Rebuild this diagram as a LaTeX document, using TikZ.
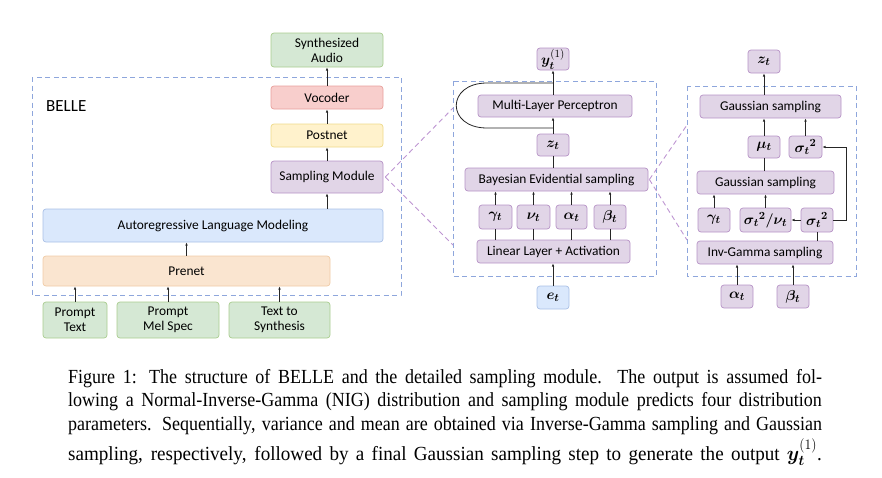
\documentclass[tikz,border=0pt]{standalone}
\usepackage{fontspec}
\usepackage{amsmath}
\usepackage{bm}
\usepackage{graphicx}
\setmainfont{Liberation Serif}
\newfontfamily\carl{Carlito}
\usetikzlibrary{arrows.meta}
\definecolor{gfill}{HTML}{D5E8D4}\definecolor{gdraw}{HTML}{A9CC8F}
\definecolor{rfill}{HTML}{F8CECC}\definecolor{rdraw}{HTML}{E8A09C}
\definecolor{yfill}{HTML}{FFF2CC}\definecolor{ydraw}{HTML}{EED98A}
\definecolor{pfill}{HTML}{E1D5E7}\definecolor{pdraw}{HTML}{B692C6}
\definecolor{bfill}{HTML}{DAE8FC}\definecolor{bdraw}{HTML}{A9C0E6}
\definecolor{ofill}{HTML}{FAE5D0}\definecolor{odraw}{HTML}{F0CBA6}
\definecolor{dashblue}{HTML}{8EA6DC}
\definecolor{dashpurple}{HTML}{BE96D2}
\newcommand{\bt}{{\bm t}}
\newcommand{\sigsq}{{\bm{\sigma}_{\bt}}^{\bm 2}}
\newcommand{\capline}[1]{\makebox[837.5pt][s]{#1}\\}
\begin{document}
\begin{tikzpicture}[x=1pt,y=-1pt,
  bx/.style={draw, rounded corners=3pt, line width=0.7pt, inner sep=0pt, align=center,
    font=\carl\fontsize{13.4}{14.8}\selectfont},
  mth/.style={font=\fontsize{15}{16}\selectfont},
  gbox/.style={bx, fill=gfill, draw=gdraw},
  rbox/.style={bx, fill=rfill, draw=rdraw},
  ybox/.style={bx, fill=yfill, draw=ydraw},
  pbox/.style={bx, fill=pfill, draw=pdraw},
  bbox/.style={bx, fill=bfill, draw=bdraw},
  obox/.style={bx, fill=ofill, draw=odraw},
  sz/.style 2 args={minimum width=#1pt, minimum height=#2pt},
  arr/.style={-{Latex[length=3.2pt,width=2.6pt]}, line width=0.8pt, draw=black!85},
  ln/.style={line width=0.8pt, draw=black!85},
  dbox/.style={draw=dashblue, dash pattern=on 5pt off 3.5pt, line width=0.9pt},
  dpl/.style={draw=dashpurple, dash pattern=on 5pt off 3.5pt, line width=0.9pt}
]
\useasboundingbox (0,0) rectangle (882,477);
% ---------- left: BELLE ----------
\draw[dbox] (32,77) rectangle (401,295);
\node[anchor=base west, inner sep=0, font=\carl\fontsize{17}{19}\selectfont] (belle) at (46,111) {BELLE};
\node[gbox, sz={112}{34}] (audio) at (327,50) {Synthesized\\Audio};
\node[rbox, sz={112}{23}] (voc) at (327,97.5) {Vocoder};
\node[ybox, sz={112}{23}] (post) at (327,135.5) {Postnet};
\node[pbox, sz={112}{32}] (samp) at (327,177) {Sampling Module};
\node[bbox, sz={340}{33}] (ar) at (213,225.5) {Autoregressive Language Modeling};
\node[obox, sz={287}{30}] (pre) at (186.5,271) {Prenet};
\node[gbox, sz={64}{36}] (ptext) at (75,320) {Prompt\\Text};
\node[gbox, sz={102}{36}] (pmel) at (168,320) {Prompt\\Mel Spec};
\node[gbox, sz={101}{36}] (tts) at (279.5,320) {Text to\\Synthesis};
\draw[arr] (ptext.north) -- (ptext.north |- pre.south);
\draw[arr] (pmel.north) -- (pmel.north |- pre.south);
\draw[arr] (tts.north) -- (tts.north |- pre.south);
\draw[arr] (pre.north) -- (pre.north |- ar.south);
\draw[arr] (samp.south |- ar.north) -- (samp.south);
\draw[arr] (samp.north) -- (post.south);
\draw[arr] (post.north) -- (voc.south);
\draw[arr] (voc.north) -- (audio.south);
% ---------- middle ----------
\draw[dbox] (453,81) rectangle (656,276);
\coordinate (m1) at (453,108);
\coordinate (m2) at (453,245);
\draw[dpl] ([xshift=2pt]samp.east) -- (m1);
\draw[dpl] ([xshift=2pt]samp.east) -- (m2);
\node[pbox, mth, sz={32}{22}] (y1) at (553,59) {$\bm{y}_{\bt}^{(1)}$};
\node[pbox, sz={154}{22}] (mlp) at (555,106) {Multi-Layer Perceptron};
\node[pbox, mth, sz={32}{22}] (zt) at (553,145) {$\bm{z}_{\bt}$};
\node[pbox, sz={183}{23}] (bes) at (556.5,179.5) {Bayesian Evidential sampling};
\node[pbox, mth, sz={33}{24}] (gam) at (495.5,217) {$\bm{\gamma}_{\bt}$};
\node[pbox, mth, sz={33}{24}] (nu) at (533.5,217) {$\bm{\nu}_{\bt}$};
\node[pbox, mth, sz={31}{24}] (alp) at (571.5,217) {$\bm{\alpha}_{\bt}$};
\node[pbox, mth, sz={32}{24}] (bet) at (610,217) {$\bm{\beta}_{\bt}$};
\node[pbox, sz={153}{23}] (lin) at (553.5,251.5) {Linear Layer + Activation};
\node[bbox, mth, sz={32}{23}] (et) at (553,297.5) {$\bm{e}_{\bt}$};
\draw[arr] (et.north) -- (et.north |- lin.south);
\foreach \p in {gam,nu,alp,bet}{
  \draw[ln] (\p.south |- lin.north) -- (\p.south);
  \draw[arr] (\p.north) -- (\p.north |- bes.south);
}
\draw[ln] (zt.south) -- (zt.south |- bes.north);
\draw[arr] (zt.north) -- (zt.north |- mlp.south);
\draw[arr] (y1.south |- mlp.north) -- (y1.south);
\coordinate (lb) at (553,128);
\coordinate (lt) at (553,83);
\draw[ln] (lb) -- (487,128) .. controls (446,128) and (446,83) .. (487,83) -- (lt);
% ---------- right ----------
\draw[dbox] (687,86) rectangle (856,276);
\coordinate (r1) at (687,125);
\coordinate (r2) at (687,240);
\draw[dpl] ([xshift=1pt]bes.east) -- (r1);
\draw[dpl] ([xshift=1pt]bes.east) -- (r2);
\node[pbox, mth, sz={32}{23}] (zt2) at (764,61.5) {$\bm{z}_{\bt}$};
\node[pbox, sz={141}{23}] (gst) at (770.5,106.5) {Gaussian sampling};
\node[pbox, mth, sz={32}{22}] (mu) at (764,147) {$\bm{\mu}_{\bt}$};
\node[pbox, mth, sz={33}{22}] (sgu) at (805.5,147) {$\sigsq$};
\node[pbox, sz={137}{23}] (gsm) at (765.5,182.5) {Gaussian sampling};
\node[pbox, mth, sz={32}{24}] (gam2) at (714,220) {$\bm{\gamma}_{\bt}$};
\node[pbox, mth, sz={51}{24}] (sgn) at (765.5,220) {$\sigsq\bm{/}\bm{\nu}_{\bt}$};
\node[pbox, mth, sz={32}{24}] (sgl) at (817,220) {$\sigsq$};
\node[pbox, sz={136}{23}] (inv) at (765,252.5) {Inv-Gamma sampling};
\node[pbox, mth, sz={32}{23}] (alp2) at (737,296.5) {$\bm{\alpha}_{\bt}$};
\node[pbox, mth, sz={32}{23}] (bet2) at (793,296.5) {$\bm{\beta}_{\bt}$};
\draw[arr] (alp2.north) -- (alp2.north |- inv.south);
\draw[arr] (bet2.north) -- (bet2.north |- inv.south);
\draw[ln] (sgl.south |- inv.north) -- (sgl.south);
\draw[arr] (sgl.west) -- (sgn.east);
\coordinate (rc) at (846,220);
\draw[arr] (sgl.east) -- (rc) |- (sgu.east);
\draw[arr] (gam2.north) -- (gam2.north |- gsm.south);
\draw[arr] (sgn.north) -- (sgn.north |- gsm.south);
\draw[ln] (mu.south) -- (mu.south |- gsm.north);
\draw[arr] (mu.north) -- (mu.north |- gst.south);
\draw[arr] (sgu.north) -- (sgu.north |- gst.south);
\draw[arr] (zt2.south |- gst.north) -- (zt2.south);
% ---------- caption ----------
\node[anchor=base west, inner sep=0pt, xscale=0.9, transform shape] (cap) at (68,383) {\parbox[t]{837.5pt}{\fontsize{20}{23.5}\selectfont\setlength{\parindent}{0pt}%
\capline{Figure 1: The structure of BELLE and the detailed sampling module. The output is assumed fol-}%
\capline{lowing a Normal-Inverse-Gamma (NIG) distribution and sampling module predicts four distribution}%
\capline{parameters. Sequentially, variance and mean are obtained via Inverse-Gamma sampling and Gaussian}%
\rule{0pt}{25pt}\scalebox{1.06}[1]{\makebox[790pt][s]{sampling, respectively, followed by a final Gaussian sampling step to generate the output $\bm{y}_{\bt}^{(1)}$.}}}};
\end{tikzpicture}
\end{document}
